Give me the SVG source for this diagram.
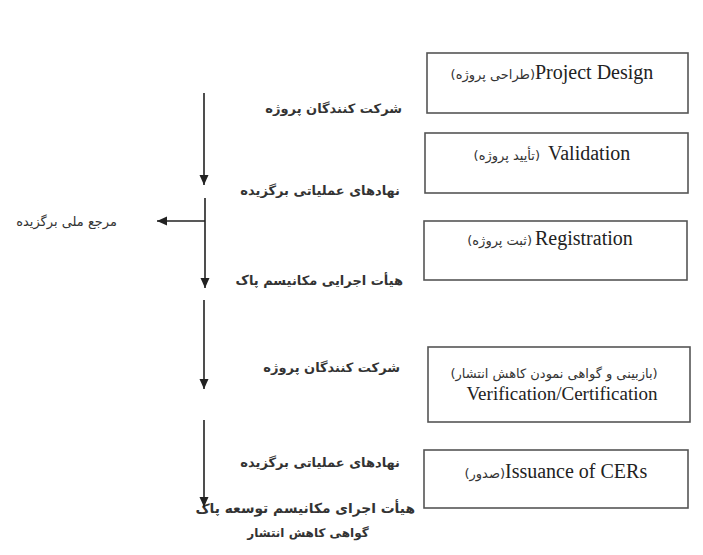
<svg xmlns="http://www.w3.org/2000/svg" width="703" height="555" viewBox="0 0 703 555">
<defs>
<style>
.box{fill:#fff;stroke:#555;stroke-width:1.6}
.en{font-family:"Liberation Serif","Times New Roman",serif;font-size:20px;fill:#222}
.fa{font-family:"DejaVu Sans",sans-serif;font-size:13px;fill:#333}
.lbl{font-family:"DejaVu Sans",sans-serif;font-size:13px;font-weight:bold;fill:#333}
.ln{stroke:#222;stroke-width:1.6;fill:none}
</style>
<marker id="ah" markerWidth="11" markerHeight="11" refX="10" refY="5" orient="auto" markerUnits="userSpaceOnUse">
<path d="M0,0.5 L10,5 L0,9.5 Z" fill="#222"/>
</marker>
</defs>
<rect width="703" height="555" fill="#fff"/>
<g id="n1">
<rect class="box" x="427" y="53" width="261" height="60"/>
<text class="fa" x="535" y="79" text-anchor="end">(طراحی پروژه)</text>
<text class="en" x="535" y="79">Project Design</text>
</g>
<g id="n2">
<rect class="box" x="425" y="133" width="263" height="60"/>
<text class="fa" x="540" y="160" text-anchor="end">(تأیید پروژه)</text>
<text class="en" x="548" y="160">Validation</text>
</g>
<g id="n3">
<rect class="box" x="424" y="221" width="263" height="59"/>
<text class="fa" x="532" y="245" text-anchor="end">(ثبت پروژه)</text>
<text class="en" x="535" y="245">Registration</text>
</g>
<g id="n4">
<rect class="box" x="428" y="347" width="262" height="75"/>
<text class="fa" x="554" y="378" text-anchor="middle">(بازبینی و گواهی نمودن کاهش انتشار)</text>
<text class="en" x="562" y="400" text-anchor="middle" style="font-size:19px">Verification/Certification</text>
</g>
<g id="n5">
<rect class="box" x="424" y="450" width="264" height="58"/>
<text class="fa" x="505" y="478" text-anchor="end">(صدور)</text>
<text class="en" x="505" y="478">Issuance of CERs</text>
</g>
<g id="labels">
<text class="lbl" x="402" y="113" text-anchor="end">شرکت کنندگان پروژه</text>
<text class="lbl" x="400" y="195" text-anchor="end">نهادهای عملیاتی برگزیده</text>
<text class="lbl" x="403" y="285" text-anchor="end">هیأت اجرایی مکانیسم پاک</text>
<text class="lbl" x="400" y="372" text-anchor="end">شرکت کنندگان پروژه</text>
<text class="lbl" x="400" y="467" text-anchor="end">نهادهای عملیاتی برگزیده</text>
<text class="lbl" x="415" y="513" text-anchor="end" style="font-size:13.8px">هیأت اجرای مکانیسم توسعه پاک</text>
<text class="lbl" x="308" y="537" text-anchor="middle" style="font-size:12px">گواهی کاهش انتشار</text>
<text class="fa" x="117" y="226" text-anchor="end">مرجع ملی برگزیده</text>
</g>
<g id="connectors">
<line class="ln" x1="204" y1="93" x2="204" y2="185" marker-end="url(#ah)"/>
<line class="ln" x1="205" y1="198" x2="205" y2="288" marker-end="url(#ah)"/>
<line class="ln" x1="205" y1="221" x2="157" y2="221" marker-end="url(#ah)"/>
<line class="ln" x1="204" y1="300" x2="204" y2="389" marker-end="url(#ah)"/>
<line class="ln" x1="204" y1="420" x2="204" y2="507" marker-end="url(#ah)"/>
</g>
</svg>
